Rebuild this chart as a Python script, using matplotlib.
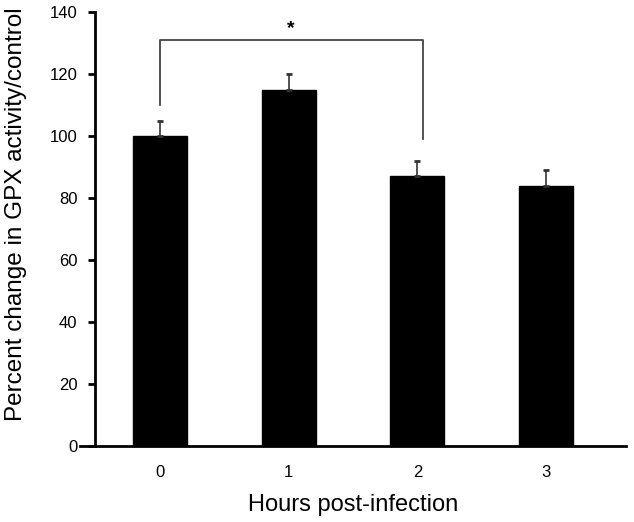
import matplotlib
matplotlib.use("Agg")
import matplotlib.pyplot as plt
import numpy as np

plt.rcParams['font.family'] = ['Liberation Sans', 'DejaVu Sans']

categories = ["0", "1", "2", "3"]
values = [100, 115, 87, 84]
errors = [5, 5, 5, 5]
yticks = [0, 20, 40, 60, 80, 100, 120, 140]

fig = plt.figure(figsize=(6.34, 5.22), dpi=100)
ax = fig.add_axes([80/634, 1-446/522, (626-80)/634, (446-12)/522])

x = np.arange(len(categories))
ax.bar(x, values, width=0.42, color='black', edgecolor='black', zorder=2)
ax.errorbar(x, values, yerr=[np.zeros(len(errors)), errors], fmt='none',
            ecolor='#333333', elinewidth=1.2, capsize=2, capthick=2, zorder=3)

# significance bracket
ax.plot([0, 0, 2.04, 2.04], [110, 131, 131, 99], color='#444444', lw=1.3, zorder=1)
ax.text(1.02, 132, "*", ha='center', va='bottom', fontsize=14, fontweight='bold')

ax.set_xlim(-0.62, 3.62)
ax.set_ylim(0, 140)
ax.spines['left'].set_position(('data', -0.5))
ax.spines['top'].set_visible(False)
ax.spines['right'].set_visible(False)
ax.spines['left'].set_linewidth(2)
ax.spines['bottom'].set_linewidth(2)
ax.set_yticks(yticks)
ax.set_xticks(x)
ax.set_xticklabels(categories)
ax.tick_params(axis='y', direction='out', length=5, width=2, labelsize=12, pad=8)
ax.tick_params(axis='x', length=0, labelsize=12, pad=14)
ax.set_ylabel("Percent change in GPX activity/control", fontsize=17.5)
ax.yaxis.set_label_coords(-0.097, 0.533)
ax.set_xlabel("Hours post-infection", fontsize=17, labelpad=10)

fig.savefig("out.png", dpi=100)
